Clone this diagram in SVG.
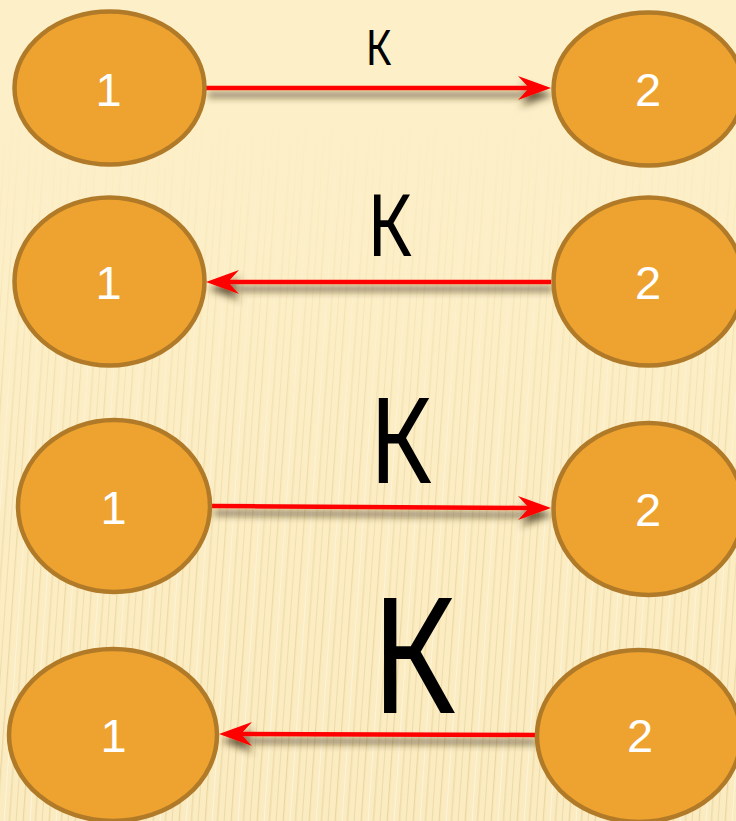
<svg xmlns="http://www.w3.org/2000/svg" width="736" height="821" viewBox="0 0 736 821">
  <style>
    .node ellipse { fill: #EEA330; stroke: #B07A28; stroke-width: 4.5; }
    .node text { fill: #FFFFFF; font-family: "Liberation Sans", Arial, sans-serif; font-size: 47px; text-anchor: middle; }
    .edge-line { stroke: #FF0000; stroke-width: 4.5; fill: none; }
    .edge-head { fill: #FF0000; }
    .label { fill: #000000; font-family: "Noto Sans", "Open Sans", "DejaVu Sans", sans-serif; text-anchor: middle; }
  </style>
  <defs>
    <linearGradient id="bg" x1="0" y1="0" x2="0" y2="1">
      <stop offset="0" stop-color="#FDF0C9"/>
      <stop offset="1" stop-color="#FBEBC0"/>
    </linearGradient>
    <!-- faint wood-like vertical grain -->
    <pattern id="grain" width="26" height="821" patternUnits="userSpaceOnUse" patternTransform="skewX(-4)">
      <rect x="2" y="0" width="1.2" height="821" fill="#E3CB92" opacity="0.7"/>
      <rect x="9" y="0" width="0.8" height="821" fill="#FFFFFF" opacity="0.6"/>
      <rect x="14" y="0" width="1.5" height="821" fill="#E6D09B" opacity="0.6"/>
      <rect x="21" y="0" width="0.8" height="821" fill="#DFC68C" opacity="0.6"/>
    </pattern>
    <linearGradient id="grainFade" x1="0" y1="0" x2="0" y2="1">
      <stop offset="0.15" stop-color="#FFFFFF" stop-opacity="0"/>
      <stop offset="0.55" stop-color="#FFFFFF" stop-opacity="0.7"/>
      <stop offset="1" stop-color="#FFFFFF" stop-opacity="1"/>
    </linearGradient>
    <mask id="grainMask">
      <rect width="736" height="821" fill="url(#grainFade)"/>
    </mask>
    <filter id="shadow" x="-10%" y="-200%" width="120%" height="500%">
      <feGaussianBlur in="SourceAlpha" stdDeviation="3.5"/>
      <feOffset dx="2" dy="7" result="blur"/>
      <feFlood flood-color="#3E2F14" flood-opacity="0.75"/>
      <feComposite in2="blur" operator="in" result="sh"/>
      <feMerge>
        <feMergeNode in="sh"/>
        <feMergeNode in="SourceGraphic"/>
      </feMerge>
    </filter>
  </defs>

  <!-- background -->
  <rect width="736" height="821" fill="url(#bg)"/>
  <rect width="736" height="821" fill="url(#grain)" mask="url(#grainMask)"/>

  <!-- connectors -->
  <g id="connectors" filter="url(#shadow)">
    <g id="e1">
      <path class="edge-line" d="M206,88 L531,88"/>
      <path class="edge-head" d="M551,88 L518,76 L529,88 L518,100 Z"/>
    </g>
    <g id="e2">
      <path class="edge-line" d="M551,282 L226,282"/>
      <path class="edge-head" d="M206,282 L239,270 L228,282 L239,294 Z"/>
    </g>
    <g id="e3">
      <path class="edge-line" d="M212,506 L531,508"/>
      <path class="edge-head" d="M551,508 L518,496 L529,508 L518,520 Z"/>
    </g>
    <g id="e4">
      <path class="edge-line" d="M535,735 L239,734"/>
      <path class="edge-head" d="M219,734 L252,722 L241,734 L252,746 Z"/>
    </g>
  </g>

  <!-- edge labels -->
  <text class="label" font-size="49" transform="translate(378.5,65) scale(0.85,1)">К</text>
  <text class="label" font-size="85" transform="translate(389.5,256) scale(0.85,1)">К</text>
  <text class="label" font-size="119" transform="translate(400.5,483) scale(0.85,1)">К</text>
  <text class="label" font-size="161" transform="translate(413.5,713) scale(0.85,1)">К</text>

  <!-- nodes -->
  <g id="r1n1" class="node">
    <ellipse cx="109.5" cy="88" rx="95" ry="76.5"/>
    <text x="108.5" y="106">1</text>
  </g>
  <g id="r1n2" class="node">
    <ellipse cx="648.5" cy="89" rx="95" ry="76.5"/>
    <text x="648" y="106">2</text>
  </g>
  <g id="r2n1" class="node">
    <ellipse cx="109.5" cy="281.5" rx="95" ry="84"/>
    <text x="108.5" y="299">1</text>
  </g>
  <g id="r2n2" class="node">
    <ellipse cx="648.5" cy="281.5" rx="95" ry="84"/>
    <text x="648" y="299">2</text>
  </g>
  <g id="r3n1" class="node">
    <ellipse cx="114" cy="506" rx="96" ry="86"/>
    <text x="113.5" y="524">1</text>
  </g>
  <g id="r3n2" class="node">
    <ellipse cx="648.5" cy="509" rx="95" ry="86"/>
    <text x="648" y="526">2</text>
  </g>
  <g id="r4n1" class="node">
    <ellipse cx="113" cy="735" rx="104" ry="86"/>
    <text x="113.5" y="752">1</text>
  </g>
  <g id="r4n2" class="node">
    <ellipse cx="639" cy="736" rx="102" ry="86"/>
    <text x="640" y="752">2</text>
  </g>
</svg>
